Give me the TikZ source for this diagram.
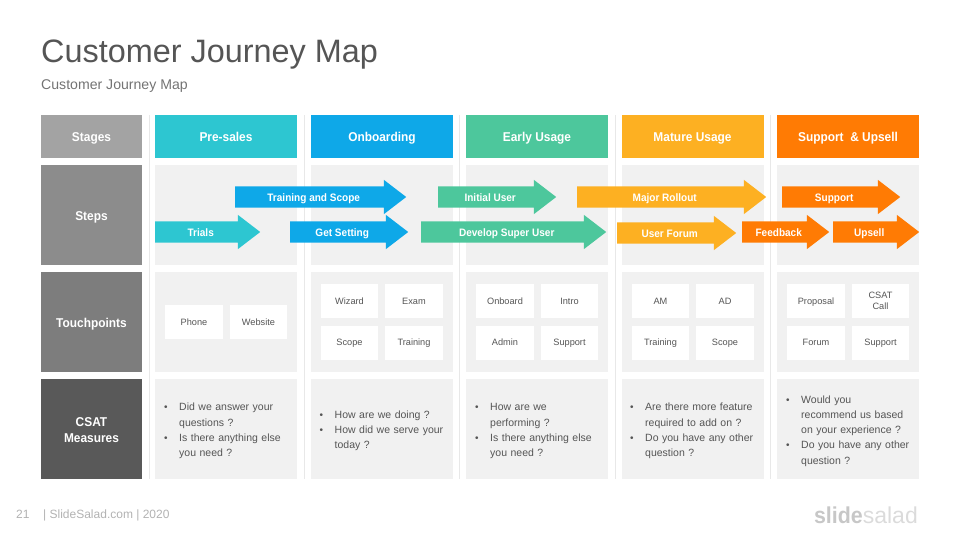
\documentclass[tikz,border=0pt]{standalone}
\usepackage{fontspec}
\setmainfont{Liberation Sans}[BoldFeatures={FakeStretch=0.93}]
\usetikzlibrary{shapes.arrows, positioning}

\definecolor{presales}{HTML}{2DC6D1}
\definecolor{onboard}{HTML}{0EA8E8}
\definecolor{earlyuse}{HTML}{4DC79C}
\definecolor{matureuse}{HTML}{FDB022}
\definecolor{upsell}{HTML}{FF7B04}
\definecolor{cellbg}{HTML}{F1F1F1}
\definecolor{sepline}{HTML}{E8E8E8}
\definecolor{inktext}{HTML}{555555}

\newcommand{\csatitem}[1]{\par\noindent\hangindent=15pt\hangafter=1\makebox[15pt][l]{\fontsize{10}{10}\selectfont\textbullet}#1\par}

\tikzset{
    rowhead/.style={minimum width=101pt, inner sep=0pt, align=center, text=white,
        text height=11pt, text depth=0pt, font=\fontsize{12.8}{16}\selectfont\bfseries},
    stagebox/.style={minimum width=142pt, minimum height=43pt, inner sep=0pt, text=white,
        text height=11pt, text depth=0pt, font=\fontsize{12.8}{16}\selectfont\bfseries},
    cell/.style={fill=cellbg, minimum width=142pt, minimum height=100pt, inner sep=0pt},
    touchbox/.style={fill=white, minimum width=57.5pt, minimum height=34pt, inner sep=0pt,
        align=center, text=inktext, text height=6.5pt, text depth=0pt,
        font=\fontsize{9.2}{11.5}\selectfont},
    csattext/.style={anchor=west, inner sep=0pt, text width=132pt, align=left, text=inktext,
        font=\fontsize{10.5}{15.2}\selectfont},
    steparrow/.style={single arrow, single arrow head extend=6.5pt,
        single arrow tip angle=75, single arrow head indent=0pt, minimum width=34pt,
        inner xsep=0pt, inner ysep=6.5pt, text height=8pt, text depth=0pt, anchor=tail, text=white,
        font=\fontsize{10.8}{12}\selectfont\bfseries},
}

\begin{document}
\begin{tikzpicture}[x=1pt,y=-1pt]
    \path[use as bounding box] (0,0) rectangle (960,540);

    % Title
    \node[anchor=base west, inner sep=0pt, text=inktext, font=\fontsize{32.4}{36}\selectfont] (title) at (41,63) {Customer Journey Map};
    \node[anchor=base west, inner sep=0pt, text=black!55, font=\fontsize{14.1}{16}\selectfont] (subtitle) at (41,90) {Customer Journey Map};

    % Column separators
    \foreach \sepx [count=\i] in {149.5,304.5,459.5,615,770.5}
        \draw[sepline, line width=0.8pt] (\sepx,115) -- (\sepx,479);

    % Row heads
    \node[rowhead, minimum height=43pt, fill=black!36] (stages) at (91.5,136.5) {Stages};
    \node[rowhead, minimum height=100pt, fill=black!45] (steps) at (91.5,215) {Steps};
    \node[rowhead, minimum height=100pt, fill=black!51] (touch) at (91.5,322) {Touchpoints};
    \node[rowhead, minimum height=100pt, fill=black!65, text height=27pt, text depth=0pt] (csat) at (91.5,429) {CSAT\\Measures};

    % Stage columns
    \foreach \name/\colx/\colr/\lab in {pre/226/presales/Pre-sales, onb/382/onboard/Onboarding,
        early/537/earlyuse/Early Usage, mature/692.5/matureuse/Mature Usage,
        supp/848/upsell/Support\ \ \& Upsell} {
        \node[stagebox, fill=\colr] (\name) at (\colx,136.5) {\lab};
        \node[cell] (\name steps) at (\colx,215) {};
        \node[cell] (\name touch) at (\colx,322) {};
        \node[cell] (\name csat) at (\colx,429) {};
    }

    % Step arrows
    \node[steparrow, fill=presales, minimum height=105pt] (trials) at (155,232) {Trials};
    \node[steparrow, fill=onboard, minimum height=171pt] (training) at (235,197) {Training and Scope};
    \node[steparrow, fill=onboard, minimum height=118pt] (getset) at (290,232) {Get Setting};
    \node[steparrow, fill=earlyuse, minimum height=118pt] (inituser) at (438,197) {Initial User};
    \node[steparrow, fill=earlyuse, minimum height=185pt] (devuser) at (421,232) {Develop Super User};
    \node[steparrow, fill=matureuse, minimum height=189pt] (rollout) at (577,197) {Major Rollout};
    \node[steparrow, fill=matureuse, minimum height=119pt] (forum) at (617,233) {User Forum};
    \node[steparrow, fill=upsell, minimum height=87pt] (feedback) at (742,232) {Feedback};
    \node[steparrow, fill=upsell, minimum height=118pt] (support) at (782,197) {Support};
    \node[steparrow, fill=upsell, minimum height=86pt] (upsellarrow) at (833,232) {Upsell};

    % Touchpoints
    \node[touchbox] (phone) at (194,322) {Phone};
    \node[touchbox] (website) at (258.5,322) {Website};
    \node[touchbox] (wizard) at (349.5,301) {Wizard};
    \node[touchbox] (exam) at (414,301) {Exam};
    \node[touchbox] (scope) at (349.5,342.5) {Scope};
    \node[touchbox] (training2) at (414,342.5) {Training};
    \node[touchbox] (onbrd) at (505,301) {Onboard};
    \node[touchbox] (intro) at (569.5,301) {Intro};
    \node[touchbox] (admin) at (505,342.5) {Admin};
    \node[touchbox] (support1) at (569.5,342.5) {Support};
    \node[touchbox] (am) at (660.5,301) {AM};
    \node[touchbox] (ad) at (725,301) {AD};
    \node[touchbox] (training3) at (660.5,342.5) {Training};
    \node[touchbox] (scope2) at (725,342.5) {Scope};
    \node[touchbox] (proposal) at (816,301) {Proposal};
    \node[touchbox, text height=, text depth=] (csatcall) at (880.5,301) {CSAT\\Call};
    \node[touchbox] (forum2) at (816,342.5) {Forum};
    \node[touchbox] (support2) at (880.5,342.5) {Support};

    % CSAT questions
    \node[csattext] (q1) at (164,427.2) {\csatitem{Did we answer your\newline questions ?}\csatitem{Is there anything else\newline you need ?}};
    \node[csattext] (q2) at (319.5,427.2) {\csatitem{How are we doing ?}\csatitem{How did we serve your\newline today ?}};
    \node[csattext] (q3) at (475,427.2) {\csatitem{How are we\newline performing ?}\csatitem{Is there anything else\newline you need ?}};
    \node[csattext] (q4) at (630,427.2) {\csatitem{Are there more feature\newline required to add on ?}\csatitem{Do you have any other\newline question ?}};
    \node[csattext] (q5) at (786,427.2) {\csatitem{Would you\newline recommend us based\newline on your experience ?}\csatitem{Do you have any other\newline question ?}};

    % Footer
    \node[anchor=base west, inner sep=0pt, text=black!30, font=\fontsize{12}{14}\selectfont] (page) at (16,518) {21};
    \node[anchor=base west, inner sep=0pt, text=black!30, font=\fontsize{12}{14}\selectfont] (foot) at (43,518) {| SlideSalad.com | 2020};
    \node[anchor=base east, inner sep=0pt, text=black!14, font=\fontsize{23}{26}\selectfont] (logo) at (918,523) {\textcolor{black!22}{\textbf{slide}}salad};
\end{tikzpicture}
\end{document}
